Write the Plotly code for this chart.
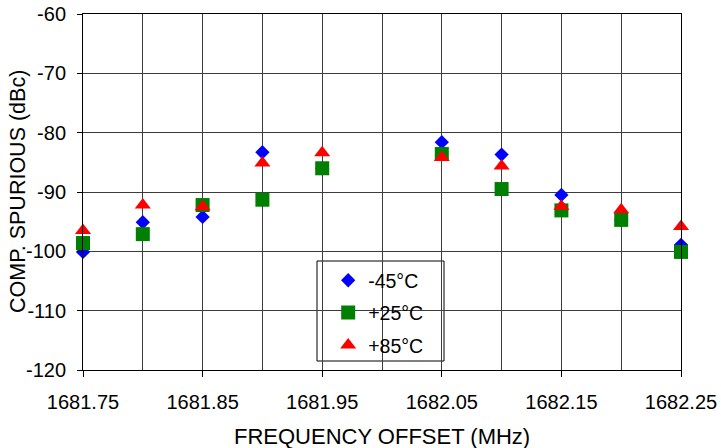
import plotly.graph_objects as go

freq = [1681.75, 1681.80, 1681.85, 1681.90, 1681.95, 1682.05, 1682.10, 1682.15, 1682.20, 1682.25]
m45 = [-100.1, -95.1, -94.2, -83.3, -86.0, -81.6, -83.7, -90.5, -94.7, -98.9]
p25 = [-98.6, -97.1, -92.2, -91.3, -86.0, -83.6, -89.5, -93.1, -94.7, -100.1]
p85 = [-96.5, -92.2, -92.5, -85.1, -83.4, -84.2, -85.6, -92.4, -93.0, -95.8]

y_tick_vals = [-120, -110, -100, -90, -80, -70, -60]
y_tick_labels = ["-120", "-110", "-100", "-90", "-80", "-70", "-60"]

series = [
    ("-45°C", m45, "diamond", "#0000FF", 11),
    ("+25°C", p25, "square", "#008000", 14),
    ("+85°C", p85, "triangle-up", "#FF0000", 14),
]

FONT = "Liberation Sans, Arial, Helvetica, sans-serif"

W, H = 721, 448
L, R, T, B = 83, 40, 14, 78
PW, PH = W - L - R, H - T - B

fig = go.Figure()
for i, (name, vals, sym, col, sz) in enumerate(series):
    fig.add_trace(go.Scatter(
        x=freq, y=vals, mode="markers", name=name, legendgroup=f"g{i}",
        cliponaxis=False,
        marker=dict(symbol=sym, color=col, size=sz, line=dict(width=0)),
    ))

grid = "#3c3c3c"
fig.update_layout(
    width=W, height=H,
    margin=dict(l=L, r=R, t=T, b=B, autoexpand=False),
    paper_bgcolor="white", plot_bgcolor="white",
    font=dict(family=FONT, size=20, color="black"),
    showlegend=True,
    legend=dict(
        x=0.41, y=0.306, xanchor="left", yanchor="top",
        bgcolor="rgba(0,0,0,0)", borderwidth=0,
        font=dict(size=19.5), tracegroupgap=4,
        traceorder="grouped",
    ),
    shapes=[dict(
        type="rect", xref="paper", yref="paper",
        x0=(317 - L) / PW, x1=(444 - L) / PW,
        y0=(370 - 361) / PH, y1=(370 - 261) / PH,
        line=dict(color="black", width=1), fillcolor="white", layer="below",
    )],
    annotations=[
        dict(text="FREQUENCY OFFSET (MHz)", xref="paper", yref="paper",
             x=0.5, y=(370 - 436) / PH, xanchor="center", yanchor="middle",
             showarrow=False, font=dict(size=22)),
        dict(text="COMP. SPURIOUS (dBc)", xref="paper", yref="paper",
             x=(18 - L) / PW, y=0.5, xanchor="center", yanchor="middle",
             textangle=-90, showarrow=False, font=dict(size=21.5)),
    ],
    xaxis=dict(
        range=[1681.75, 1682.25], tick0=1681.75, dtick=0.1,
        tickformat=".2f",
        showgrid=True, gridcolor=grid, gridwidth=1,
        minor=dict(dtick=0.05, tick0=1681.75, showgrid=True, gridcolor=grid, gridwidth=1, ticks=""),
        ticks="outside", ticklen=6, tickcolor="black",
        ticklabelstandoff=8, ticklabeloverflow="allow",
        showline=True, linecolor="black", linewidth=1, mirror=True,
        zeroline=False, automargin=False,
    ),
    yaxis=dict(
        range=[-120, -60], tickmode="array",
        tickvals=y_tick_vals, ticktext=y_tick_labels,
        showgrid=True, gridcolor=grid, gridwidth=1,
        ticks="outside", ticklen=5, tickcolor="black",
        ticklabelstandoff=7, ticklabeloverflow="allow",
        showline=True, linecolor="black", linewidth=1, mirror=True,
        zeroline=False, automargin=False,
    ),
)

fig.write_html(
    "out.html",
    config={"displayModeBar": False},
    post_script="document.body.style.margin='0';document.body.style.overflow='hidden';",
)
